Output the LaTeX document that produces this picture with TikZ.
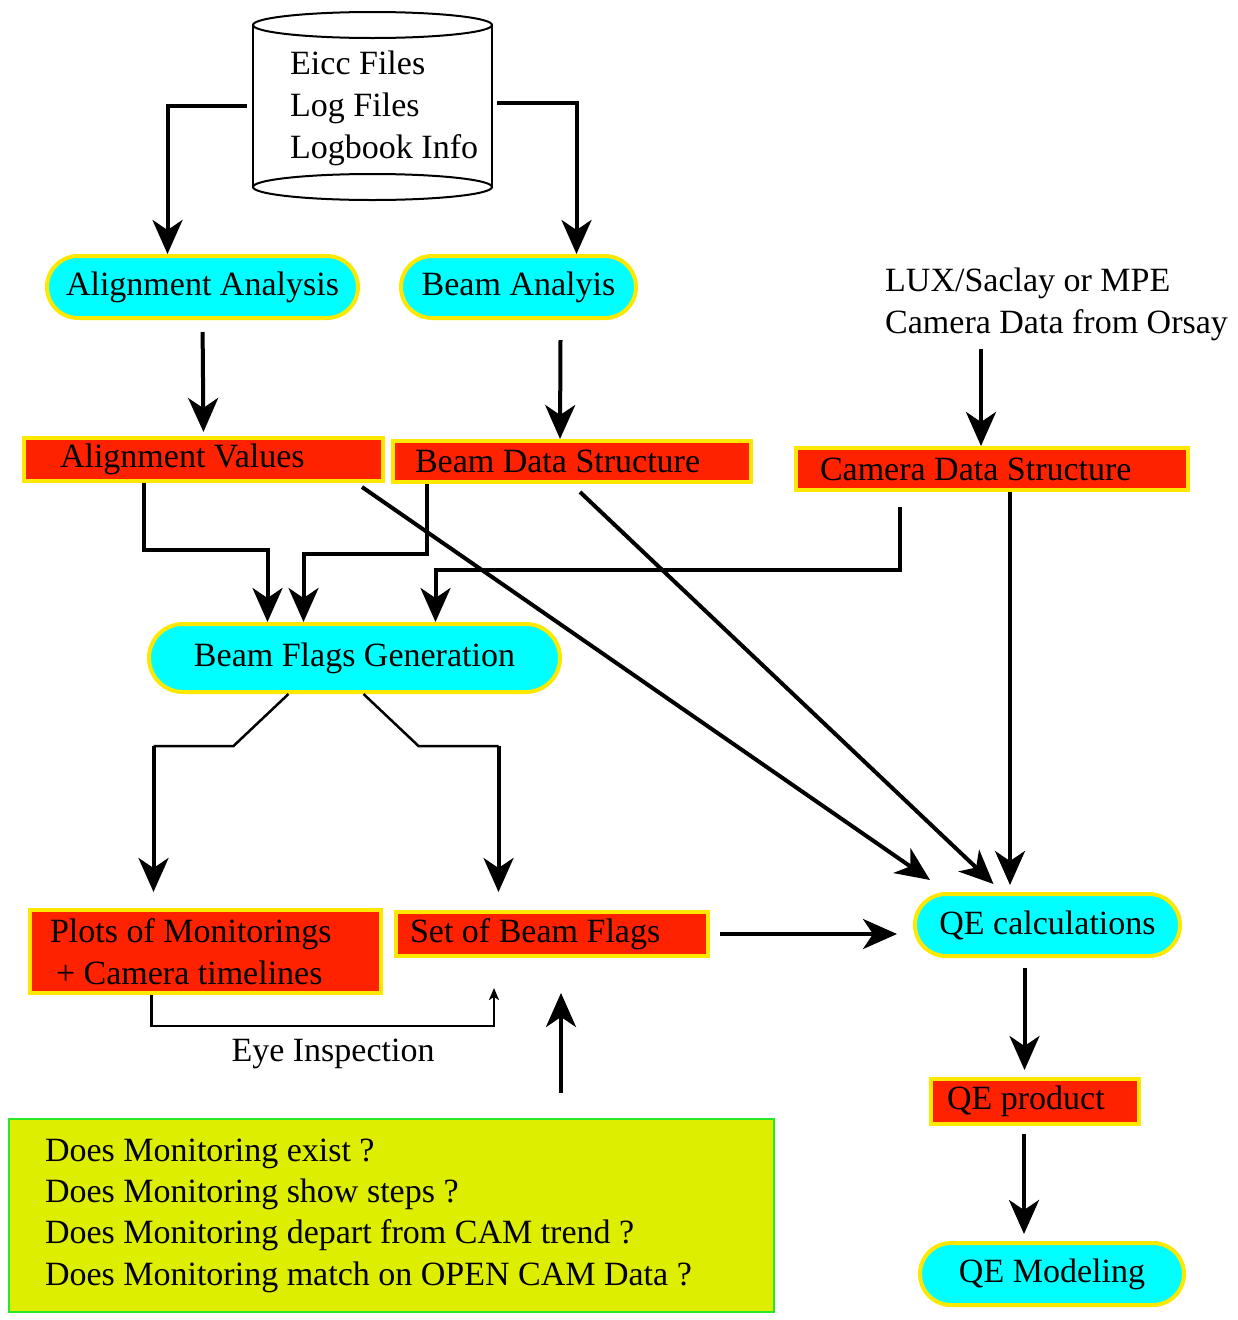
\documentclass[tikz,border=0pt]{standalone}
\usepackage{fontspec}
\setmainfont{Liberation Serif}
\usetikzlibrary{arrows.meta}

\definecolor{procblue}{RGB}{0,255,255}
\definecolor{rimyellow}{RGB}{255,232,0}
\definecolor{datared}{RGB}{255,34,0}
\definecolor{checklime}{RGB}{222,238,0}
\definecolor{checkgreen}{RGB}{40,230,40}

\tikzset{
  process/.style={draw=rimyellow, fill=procblue, line width=4pt, rounded corners=31pt, minimum height=62pt},
  datum/.style={draw=rimyellow, fill=datared, line width=4pt, align=flush left, inner ysep=3pt},
  flow/.style={->, line width=4pt},
  thinflow/.style={line width=2.5pt},
}

\begin{document}
\begin{tikzpicture}[x=1pt, y=-1pt, >={Stealth[length=34pt,width=30pt,inset=10pt]},
    every node/.style={font=\fontsize{34}{42}\selectfont}]
    \useasboundingbox (0,0) rectangle (1238,1320);

    % data files
    \draw[line width=2pt] (253,25) -- (253,187) (492,25) -- (492,187);
    \draw[line width=2pt] (372.5,25) ellipse (119.5 and 13) (372.5,187) ellipse (119.5 and 13);
    \node[align=left, inner sep=0pt, anchor=north west] (db) at (290,51) {Eicc Files\\Log Files\\Logbook Info};
    \coordinate (dbw) at (247,106);
    \coordinate (dbe) at (497,103);

    % analyses
    \node[process, minimum width=311pt] (aa) at (202.5,287) {Alignment Analysis};
    \node[process, minimum width=235pt] (ba) at (518.5,287) {Beam Analyis};
    \node[align=left, inner sep=0pt, anchor=west] (lux) at (885,304) {LUX/Saclay or MPE\\Camera Data from Orsay};

    % data structures
    \node[datum, text width=287pt, inner xsep=36pt, minimum height=43pt] (av) at (203.5,459.5) {Alignment Values};
    \node[datum, text width=314pt, inner xsep=22pt, minimum height=41pt] (bds) at (572,461.5) {Beam Data Structure};
    \node[datum, text width=344pt, inner xsep=24pt, minimum height=42pt] (cds) at (992,469) {Camera Data Structure};

    \node[process, minimum width=411pt, minimum height=68pt, rounded corners=34pt] (bfg) at (354.5,658) {Beam Flags Generation};

    \node[datum, text width=311pt, inner xsep=20pt, minimum height=83pt] (pm) at (205.5,951.5) {Plots of Monitorings\\\hspace*{6pt}+ Camera timelines};
    \node[datum, text width=284pt, inner xsep=14pt, minimum height=44pt] (sbf) at (552,934) {Set of Beam Flags};
    \node (eye) at (333,1054) {Eye Inspection};

    \node[draw=checkgreen, fill=checklime, line width=2.5pt, align=flush left, text width=693pt, inner xsep=36pt,
          minimum height=193pt, font=\fontsize{34}{41.3}\selectfont] (q) at (391.5,1215.5)
        {Does Monitoring exist ?\\Does Monitoring show steps ?\\Does Monitoring depart from CAM trend ?\\Does Monitoring match on OPEN CAM Data ?};

    % QE chain
    \node[process, minimum width=265pt] (qec) at (1047.5,925) {QE calculations};
    \node[datum, text width=176pt, inner xsep=16pt, minimum height=45pt] (qep) at (1035,1101.5) {QE product};
    \node[process, minimum width=264pt] (qem) at (1052,1274) {QE Modeling};

    % connectors
    \draw[flow] (dbw) -| ([xshift=-35pt]aa.north);
    \draw[flow] (dbe) -| ([xshift=58pt]ba.north);
    \draw[flow, shorten <=12pt, shorten >=4pt] (aa.south) -- (av.north);
    \draw[flow] ([xshift=42pt,yshift=-20pt]ba.south) -- ([xshift=-12pt]bds.north);
    \draw[flow, shorten <=8pt] ([xshift=-11pt]cds.north |- lux.south) -- ([xshift=-11pt]cds.north);

    \draw[flow] ([xshift=-60pt]av.south) -- ++(0,67) -| ([xshift=-87pt]bfg.north);
    \draw[flow] ([xshift=-145pt]bds.south) -- ++(0,70) -| ([xshift=-51pt]bfg.north);
    \draw[flow] ([xshift=-92pt,yshift=-15pt]cds.south) -- ++(0,63) -| ([xshift=81pt]bfg.north);

    \draw[flow] ([xshift=-23pt,yshift=-4pt]av.south east) -- ([xshift=17pt,yshift=12pt]qec.north west);
    \draw[flow] ([xshift=8pt,yshift=-8pt]bds.south) -- ([xshift=-54pt,yshift=8pt]qec.north);
    \draw[flow, shorten >=7pt] ([xshift=18pt]cds.south) -- ([xshift=18pt]cds.south |- qec.north);

    \draw[thinflow] ([xshift=-66pt]bfg.south) -- ++(-55,52) -- ++(-80,0) coordinate (k1);
    \draw[flow, shorten >=16pt] (k1) -- (k1 |- pm.north);
    \draw[thinflow] ([xshift=9pt]bfg.south) -- ++(55,52) -- ++(80,0) coordinate (k2);
    \draw[flow, shorten >=18pt] (k2) -- (k2 |- sbf.north);

    \draw[thinflow, -{Stealth[length=12pt,width=10pt,inset=3pt]}] ([xshift=-54pt]pm.south) -- ++(0,31) -| ([xshift=-58pt,yshift=-30pt]sbf.south);
    \draw[flow, shorten <=25pt, shorten >=35pt] ([xshift=9pt]sbf.south |- q.north) -- ([xshift=9pt]sbf.south);

    \draw[flow, shorten <=10pt, shorten >=16pt] (sbf.east) -- (sbf.east -| qec.west);
    \draw[flow, shorten <=10pt, shorten >=7pt] ([xshift=-23pt]qec.south) -- ([xshift=-23pt]qec.south |- qep.north);
    \draw[flow, shorten <=8pt, shorten >=7pt] ([xshift=-11pt]qep.south) -- ([xshift=-11pt]qep.south |- qem.north);
\end{tikzpicture}
\end{document}
